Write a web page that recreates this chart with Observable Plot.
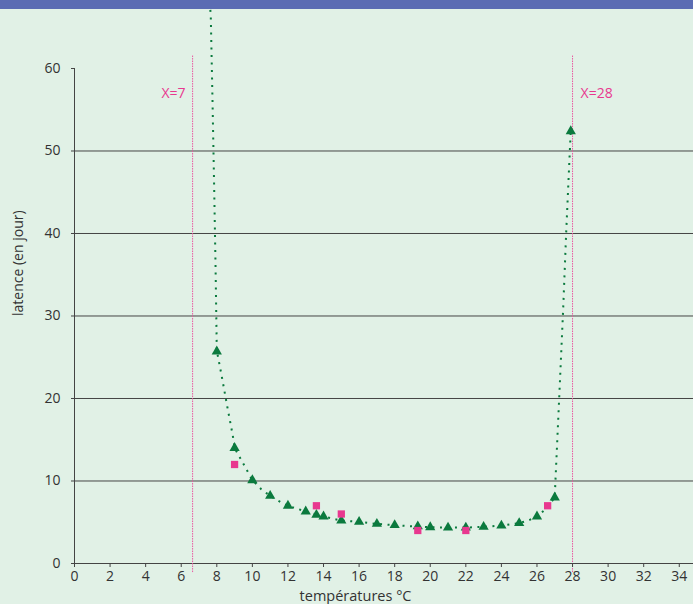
<!DOCTYPE html>
<html>
<head>
<meta charset="utf-8">
<script src="https://cdn.jsdelivr.net/npm/d3@7"></script>
<script src="https://cdn.jsdelivr.net/npm/@observablehq/plot@0.6"></script>
<style>
  html, body { margin: 0; padding: 0; background: #e1f1e6; overflow: hidden; }
  #bar { height: 9px; background: #5b6cb3; }
  #chart svg { display: block; }
</style>
</head>
<body>
<div id="bar"></div>
<div id="chart"></div>
<script>
// Triangles (observed latency, green)
const triX = [8, 9, 10, 11, 12, 13, 13.6, 14, 15, 16, 17, 18, 19.3, 20, 21, 22, 23, 24, 25, 26, 27, 27.9];
const triY = [25.7, 14.0, 10.1, 8.2, 7.0, 6.3, 5.9, 5.7, 5.2, 5.05, 4.8, 4.65, 4.5, 4.4, 4.35, 4.35, 4.45, 4.6, 4.9, 5.7, 8.0, 52.4];
// Squares (pink)
const sqX = [9, 13.6, 15, 19.3, 22, 26.6];
const sqY = [12, 7, 6, 4, 4, 7];
// Dotted fitted curve
const curveX = [7.6, 7.66, 7.76, 7.85, 7.93, 8.0, 8.26, 8.59, 8.9, 9.0, 9.44, 10, 10.5, 11, 11.5, 12, 13, 14, 15, 16, 17, 18, 19, 20, 21, 22, 23, 24, 25, 25.5, 26, 26.5, 27, 27.04, 27.25, 27.47, 27.64, 27.84, 27.9];
const curveY = [68, 66.5, 56, 45.8, 36, 25.8, 22.9, 19.0, 15.5, 14.0, 12.3, 10.1, 9.0, 8.2, 7.55, 7.0, 6.3, 5.7, 5.2, 5.05, 4.8, 4.65, 4.5, 4.4, 4.35, 4.35, 4.45, 4.6, 4.9, 5.2, 5.7, 6.6, 8.0, 10.1, 20.1, 30.7, 40, 49.7, 52.4];
// Threshold lines
const limitX = [6.64, 28];
const limitLabels = ["X=7", "X=28"];
// Axes
const xTicks = d3.range(0, 35, 2);
const yTicks = [0, 10, 20, 30, 40, 50, 60];
const gridY = [10, 20, 30, 40, 50];
const xLabel = "températures °C";
const yLabel = "latence (en jour)";

const tri = triX.map((x, i) => ({x, y: triY[i]}));
const sq = sqX.map((x, i) => ({x, y: sqY[i]}));
const curve = curveX.map((x, i) => ({x, y: curveY[i]}));
const limits = limitX.map((x, i) => ({x, label: limitLabels[i]}));

const green = "#0b7a3e";
const pink = "#e8388f";
const font = "'Open Sans', sans-serif";

const chart = Plot.plot({
  width: 693,
  height: 595,
  marginLeft: 74,
  marginRight: 0,
  marginTop: 0,
  marginBottom: 41,
  style: { background: "transparent", fontFamily: font, color: "#333" },
  x: { domain: [0, 34.8], axis: null },
  y: { domain: [0, 67.15], axis: null },
  marks: [
    Plot.ruleY(gridY, { x1: 0, x2: 34.8, stroke: "#444", strokeWidth: 1 }),
    Plot.ruleY([0], { x1: 0, x2: 34.8, stroke: "#444", strokeWidth: 1 }),
    Plot.ruleX([0], { y1: 0, y2: 60, stroke: "#444", strokeWidth: 1 }),
    Plot.ruleX(limits, { x: "x", y1: -1.1, y2: 61.6, stroke: "#e9559f", strokeWidth: 1, strokeDasharray: "1.5,1" }),
    Plot.text(limits.slice(0, 1), { x: "x", y: 57, text: "label", textAnchor: "end", dx: -7, fill: pink, fontSize: 14 }),
    Plot.text(limits.slice(1), { x: "x", y: 57, text: "label", textAnchor: "start", dx: 8, fill: pink, fontSize: 14 }),
    Plot.line(curve, { x: "x", y: "y", curve: "linear", stroke: green, strokeWidth: 2, strokeLinecap: "butt", strokeDasharray: "2,5.5", clip: true }),
    Plot.dot(tri, { x: "x", y: "y", symbol: "triangle", r: 3.8, fill: green, stroke: "none" }),
    Plot.dot(sq, { x: "x", y: "y", symbol: "square", r: 4.1, fill: pink, stroke: "none" }),
    Plot.axisX(xTicks, { tickSize: 4, tickPadding: 4, fontSize: 14, fill: "#333", stroke: "#444", label: null }),
    Plot.axisY(yTicks, { tickSize: 3, tickPadding: 11, fontSize: 14, fill: "#333", stroke: "#444", label: null }),
    Plot.text([xLabel], { frameAnchor: "bottom", x: 15.8, text: d => d, dy: 37, fontSize: 14.5, fill: "#333" }),
    Plot.text([yLabel], { frameAnchor: "left", y: 30, text: d => d, dx: -56, rotate: -90, fontSize: 14, fill: "#333" })
  ]
});
document.getElementById("chart").appendChild(chart);
</script>
</body>
</html>
